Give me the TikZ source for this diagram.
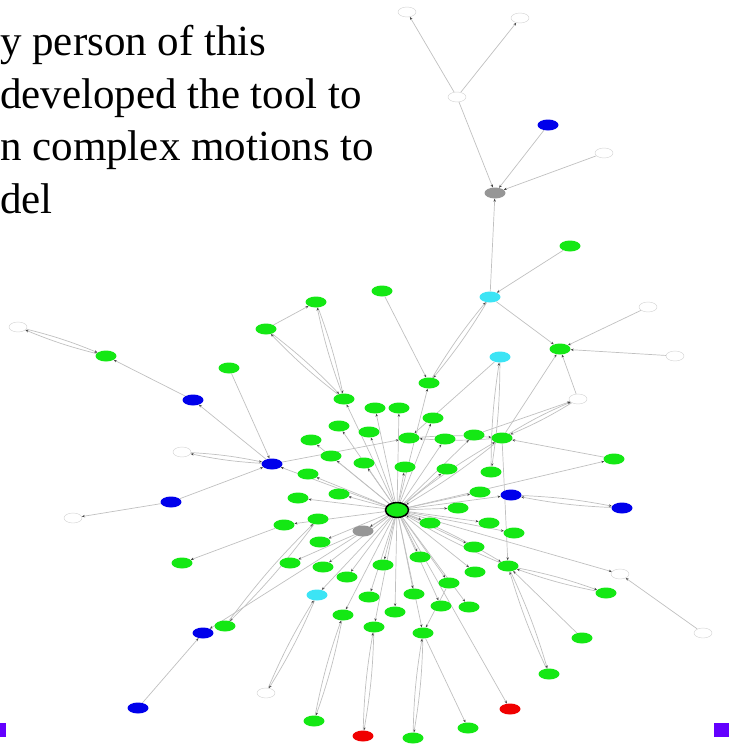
\documentclass[tikz,border=0pt]{standalone}
\usepackage{fontspec}
\setmainfont{Liberation Serif}
\usetikzlibrary{shapes.geometric,arrows.meta,backgrounds}
\definecolor{ngreen}{RGB}{20,232,20}
\definecolor{nblue}{RGB}{0,0,235}
\definecolor{ncyan}{RGB}{60,228,245}
\definecolor{nred}{RGB}{240,0,0}
\definecolor{ngray}{RGB}{150,150,150}
\definecolor{edgec}{RGB}{192,192,192}
\definecolor{arrc}{RGB}{70,70,70}
\definecolor{npurple}{RGB}{100,0,255}
\tikzset{
  nd/.style={ellipse, minimum width=21pt, minimum height=11pt, inner sep=0pt},
  gn/.style={nd, fill=ngreen},
  bl/.style={nd, fill=nblue},
  cy/.style={nd, fill=ncyan},
  rd/.style={nd, fill=nred},
  gy/.style={nd, fill=ngray},
  wh/.style={nd, fill=white, draw=gray!35, line width=0.4pt, minimum width=18pt, minimum height=10pt},
  ctrn/.style={nd, fill=ngreen, draw=black, line width=1.5pt, minimum width=23pt, minimum height=15pt},
  edge/.style={draw=edgec, line width=0.7pt, -{Stealth[length=3pt,width=2.4pt,color=arrc]}},
  txt/.style={anchor=base west, inner sep=0pt, font=\fontsize{43}{52}\selectfont},
  sq/.style={fill=npurple, draw=none}
}
\newcommand{\dedge}[2]{\draw[edge] (#1) to[bend left=4] (#2); \draw[edge] (#2) to[bend left=4] (#1);}
\newcommand{\sedge}[2]{\draw[edge] (#1) -- (#2);}
\begin{document}
\begin{tikzpicture}[x=1pt,y=-1pt]
\useasboundingbox (0,0) rectangle (736,745);
\clip (0,0) rectangle (736,745);
% text
\node[txt] (t1) at (0,55) {y person of this};
\node[txt] (t2) at (0,108) {developed the tool to};
\node[txt] (t3) at (0,160) {n complex motions to};
\node[txt] (t4) at (0,213) {del};
% purple squares
\fill[sq] (714,723) rectangle (729,737);
\fill[sq] (-2,723) rectangle (6,737);
% nodes
\node[wh] (w1) at (407,12) {};
\node[wh] (w2) at (520,18) {};
\node[wh] (w3) at (457,97) {};
\node[bl] (b1) at (548,125) {};
\node[wh] (w4) at (604,153) {};
\node[gy] (gr1) at (495,193) {};
\node[gn] (g1) at (570,246) {};
\node[cy] (c1) at (490,297) {};
\node[gn] (g2) at (382,291) {};
\node[gn] (g3) at (316,302) {};
\node[gn] (g4) at (266,329) {};
\node[gn] (g5) at (229,368) {};
\node[wh] (w5) at (18,327) {};
\node[gn] (g6) at (106,356) {};
\node[cy] (c2) at (500,357) {};
\node[gn] (g7) at (560,349) {};
\node[wh] (w6) at (648,307) {};
\node[wh] (w7) at (675,356) {};
\node[gn] (g8) at (429,383) {};
\node[bl] (b2) at (193,400) {};
\node[wh] (w8) at (578,399) {};
\node[gn] (g9) at (344,399) {};
\node[gn] (g10) at (375,408) {};
\node[gn] (g11) at (399,408) {};
\node[gn] (g12) at (433,418) {};
\node[gn] (g13) at (339,426) {};
\node[gn] (g14) at (369,432) {};
\node[gn] (g15) at (311,440) {};
\node[gn] (g16) at (409,438) {};
\node[gn] (g17) at (445,439) {};
\node[gn] (g18) at (474,435) {};
\node[gn] (g19) at (502,438) {};
\node[wh] (w9) at (182,452) {};
\node[bl] (b3) at (272,464) {};
\node[gn] (g20) at (614,459) {};
\node[gn] (g21) at (331,456) {};
\node[gn] (g22) at (364,463) {};
\node[gn] (g23) at (405,467) {};
\node[gn] (g24) at (447,469) {};
\node[gn] (g25) at (491,472) {};
\node[gn] (g26) at (308,474) {};
\node[bl] (b4) at (171,502) {};
\node[wh] (w10) at (73,518) {};
\node[gn] (g27) at (339,494) {};
\node[gn] (g28) at (298,498) {};
\node[gn] (g29) at (480,492) {};
\node[bl] (b5) at (511,495) {};
\node[bl] (b6) at (622,508) {};
\node[gn] (g30) at (458,508) {};
\node[ctrn] (ctr) at (397,510) {};
\node[gn] (g31) at (318,519) {};
\node[gn] (g32) at (284,525) {};
\node[gn] (g33) at (430,523) {};
\node[gn] (g34) at (489,523) {};
\node[gn] (g35) at (514,533) {};
\node[gy] (gr2) at (363,531) {};
\node[gn] (g36) at (320,542) {};
\node[gn] (g37) at (474,547) {};
\node[gn] (g38) at (420,557) {};
\node[gn] (g39) at (290,563) {};
\node[gn] (g40) at (182,563) {};
\node[gn] (g41) at (323,567) {};
\node[gn] (g42) at (383,565) {};
\node[gn] (g43) at (508,566) {};
\node[wh] (w11) at (620,574) {};
\node[gn] (g44) at (475,572) {};
\node[gn] (g45) at (347,577) {};
\node[gn] (g46) at (449,583) {};
\node[gn] (g47) at (606,593) {};
\node[gn] (g48) at (414,594) {};
\node[cy] (c3) at (317,595) {};
\node[gn] (g49) at (369,597) {};
\node[gn] (g50) at (441,606) {};
\node[gn] (g51) at (469,607) {};
\node[gn] (g52) at (395,612) {};
\node[gn] (g53) at (343,615) {};
\node[gn] (g54) at (374,627) {};
\node[gn] (g55) at (423,633) {};
\node[gn] (g56) at (225,626) {};
\node[bl] (b7) at (203,633) {};
\node[wh] (w12) at (703,633) {};
\node[gn] (g57) at (582,638) {};
\node[gn] (g58) at (549,674) {};
\node[wh] (w13) at (266,693) {};
\node[bl] (b8) at (138,708) {};
\node[rd] (r1) at (510,709) {};
\node[gn] (g59) at (314,721) {};
\node[gn] (g60) at (468,728) {};
\node[rd] (r2) at (363,736) {};
\node[gn] (g61) at (413,738) {};
% edges
\begin{pgfonlayer}{background}
\sedge{w3}{w1} \sedge{w3}{w2} \sedge{w3}{gr1} \sedge{b1}{gr1} \sedge{w4}{gr1}
\sedge{c1}{gr1} \sedge{g1}{c1} \sedge{g2}{g8} \sedge{c1}{g7} \sedge{g4}{g3}
\sedge{g5}{b3} \sedge{b3}{b2} \sedge{b2}{g6} \sedge{b4}{b3} \sedge{b4}{w10}
\sedge{b3}{g16} \sedge{ctr}{b3} \sedge{w6}{g7} \sedge{w7}{g7} \sedge{w8}{g7}
\sedge{g19}{g7} \sedge{g18}{w8} \sedge{g20}{g19} \sedge{c2}{g16} \sedge{ctr}{b5}
\sedge{g19}{g43} \sedge{ctr}{w11} \sedge{w12}{w11} \sedge{g57}{g43} \sedge{g55}{g60}
\sedge{g46}{g55} \sedge{ctr}{g55} \sedge{ctr}{r1} \sedge{ctr}{c3} \sedge{b8}{b7}
\sedge{ctr}{b7} \sedge{g32}{g40} \sedge{gr2}{g39}
\dedge{c1}{g8} \dedge{g3}{g9} \dedge{g4}{g9} \dedge{g6}{w5} \dedge{b3}{w9}
\dedge{g19}{w8} \dedge{g16}{g19} \dedge{c2}{g25} \dedge{b6}{b5} \dedge{g43}{g47}
\dedge{g58}{g43} \dedge{ctr}{g43} \dedge{g55}{g61} \dedge{c3}{w13} \dedge{g53}{g59}
\dedge{g54}{r2} \dedge{g31}{g56} \dedge{ctr}{g19}
\foreach \t in {g8,g9,g10,g11,g12,g13,g14,g15,g17,g18,g20,g21,g22,g23,g24,g26,g27,g28,g29,g30,g32,g33,g34,g35,g36,g37,g38,gr2,g41,g42,g44,g45,g46,g48,g49,g50,g51,g52,g53,g54}
  {\draw[edge] (ctr) -- (\t);}
\end{pgfonlayer}
\end{tikzpicture}
\end{document}
